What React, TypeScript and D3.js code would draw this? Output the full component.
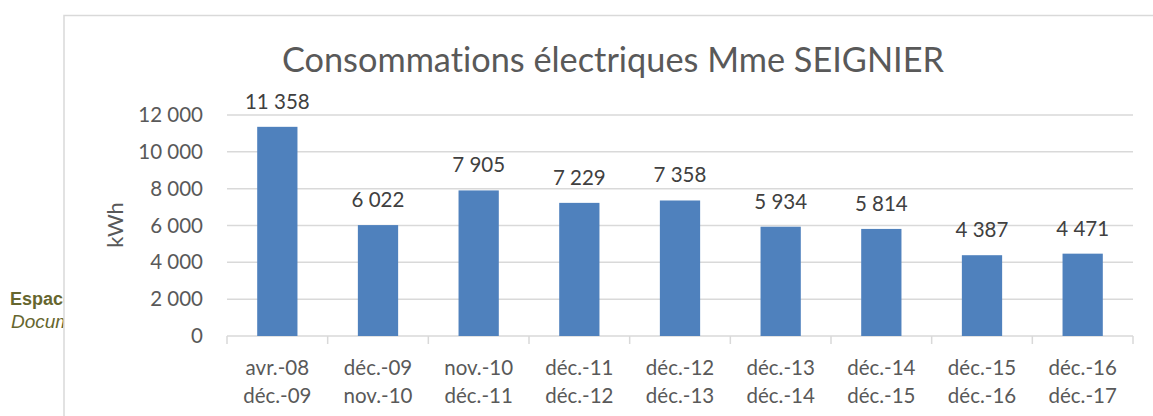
import React, { useEffect, useRef } from 'react';
import * as d3 from 'd3';

// periods (two lines each) and consumption in kWh
const periodStart = ['avr.-08', 'déc.-09', 'nov.-10', 'déc.-11', 'déc.-12', 'déc.-13', 'déc.-14', 'déc.-15', 'déc.-16'];
const periodEnd = ['déc.-09', 'nov.-10', 'déc.-11', 'déc.-12', 'déc.-13', 'déc.-14', 'déc.-15', 'déc.-16', 'déc.-17'];
const consumption = [11358, 6022, 7905, 7229, 7358, 5934, 5814, 4387, 4471];
const yTicks = [0, 2000, 4000, 6000, 8000, 10000, 12000];

const W = 1153;
const H = 416;
const FONT = 'Lato, "Open Sans", sans-serif';

const fr = d3.formatLocale({ decimal: ',', thousands: ' ', grouping: [3], currency: ['', ' €'] });
const fmt = fr.format(',d');

const App = () => {
	const svgRef = useRef<SVGSVGElement>(null);

	useEffect(() => {
		const svg = d3.select(svgRef.current);
		svg.selectAll('*').remove();

		// background text that peeks out left of the chart box
		svg
			.append('text')
			.attr('x', 10)
			.attr('y', 305)
			.attr('font-family', 'Liberation Sans, Arial, sans-serif')
			.attr('font-weight', 'bold')
			.attr('font-size', 18)
			.attr('fill', '#66662e')
			.text('Espace Info');
		svg
			.append('text')
			.attr('x', 11)
			.attr('y', 328)
			.attr('font-family', 'Liberation Sans, Arial, sans-serif')
			.attr('font-style', 'italic')
			.attr('font-size', 19)
			.attr('fill', '#66662e')
			.text('Document');

		// chart box
		svg
			.append('rect')
			.attr('x', 64)
			.attr('y', 15.5)
			.attr('width', 1200)
			.attr('height', 500)
			.attr('fill', '#fff')
			.attr('stroke', '#d9d9d9')
			.attr('stroke-width', 1.5);

		const labels = periodStart.map((s, i) => `${s}|${periodEnd[i]}`);
		const x = d3.scaleBand().domain(labels).range([227, 1133]).paddingInner(0.6).paddingOuter(0.3);
		const y = d3.scaleLinear().domain([0, 12000]).range([336, 115]);

		// title
		svg
			.append('text')
			.attr('x', 613)
			.attr('y', 72)
			.attr('text-anchor', 'middle')
			.attr('font-family', FONT)
			.attr('font-size', 34.3)
			.attr('fill', '#595959')
			.style('font-variant-ligatures', 'none')
			.text('Consommations électriques Mme SEIGNIER');

		// gridlines
		svg
			.append('g')
			.selectAll('line')
			.data(yTicks)
			.enter()
			.append('line')
			.attr('x1', 227)
			.attr('x2', 1133)
			.attr('y1', (d) => y(d))
			.attr('y2', (d) => y(d))
			.attr('stroke', '#d9d9d9')
			.attr('stroke-width', 1.5);

		// y tick labels
		svg
			.append('g')
			.selectAll('text')
			.data(yTicks)
			.enter()
			.append('text')
			.attr('x', 203)
			.attr('y', (d) => y(d) + 7)
			.attr('text-anchor', 'end')
			.attr('font-family', FONT)
			.attr('font-size', 20.5)
			.attr('fill', '#595959')
			.text((d) => fmt(d));

		// y axis title
		svg
			.append('text')
			.attr('transform', 'translate(123,225) rotate(-90)')
			.attr('text-anchor', 'middle')
			.attr('font-family', FONT)
			.attr('font-size', 22)
			.attr('fill', '#595959')
			.text('kWh');

		// category tick marks
		const step = x.step();
		const bounds = d3.range(labels.length + 1).map((i) => 227 + i * step);
		svg
			.append('g')
			.selectAll('line')
			.data(bounds)
			.enter()
			.append('line')
			.attr('x1', (d) => d)
			.attr('x2', (d) => d)
			.attr('y1', 336)
			.attr('y2', 344)
			.attr('stroke', '#d9d9d9')
			.attr('stroke-width', 1.5);

		// bars
		svg
			.append('g')
			.selectAll('rect')
			.data(consumption)
			.enter()
			.append('rect')
			.attr('x', (d, i) => x(labels[i]))
			.attr('y', (d) => y(d))
			.attr('width', x.bandwidth())
			.attr('height', (d) => y(0) - y(d))
			.attr('fill', '#4f81bd');

		// value labels
		svg
			.append('g')
			.selectAll('text')
			.data(consumption)
			.enter()
			.append('text')
			.attr('x', (d, i) => x(labels[i]) + x.bandwidth() / 2)
			.attr('y', (d) => y(d) - 18)
			.attr('text-anchor', 'middle')
			.attr('font-family', FONT)
			.attr('font-size', 20.5)
			.attr('fill', '#404040')
			.text((d) => fmt(d));

		// category labels (two lines)
		const cat = svg
			.append('g')
			.selectAll('text')
			.data(labels)
			.enter()
			.append('text')
			.attr('text-anchor', 'middle')
			.attr('font-family', FONT)
			.attr('font-size', 20.5)
			.attr('fill', '#595959');
		cat
			.append('tspan')
			.attr('x', (d) => x(d) + x.bandwidth() / 2)
			.attr('y', 375)
			.text((d) => d.split('|')[0]);
		cat
			.append('tspan')
			.attr('x', (d) => x(d) + x.bandwidth() / 2)
			.attr('y', 403)
			.text((d) => d.split('|')[1]);
	}, []);

	return <svg ref={svgRef} width={W} height={H} style={{ position: 'absolute', left: 0, top: 0, background: '#fff' }} />;
};

export default App;
